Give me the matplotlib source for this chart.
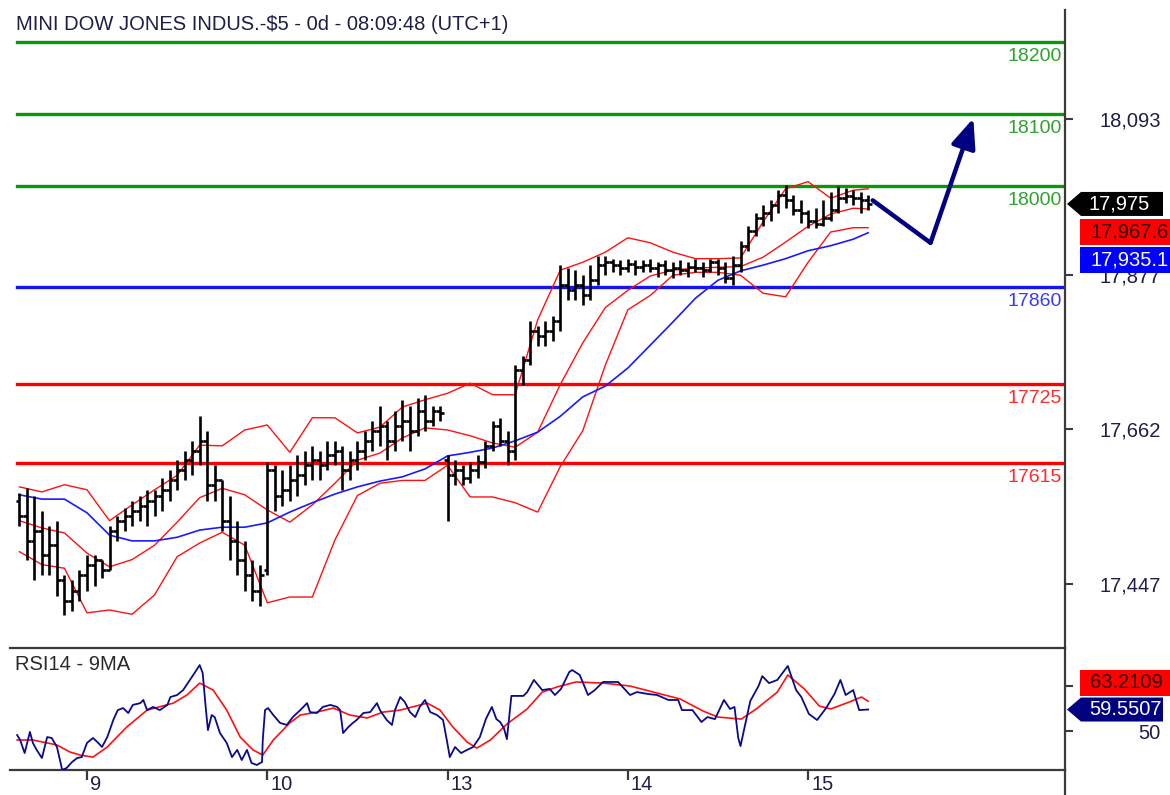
import matplotlib
matplotlib.use('Agg')
import matplotlib.pyplot as plt
import matplotlib.transforms as mtransforms
from matplotlib.collections import LineCollection
from matplotlib.patches import Polygon, Rectangle

plt.rcParams['font.family'] = ['Liberation Sans', 'DejaVu Sans']

# ---------------- data ----------------
title = "MINI DOW JONES INDUS.-$5 - 0d - 08:09:48 (UTC+1)"
rsi_title = "RSI14 - 9MA"

bar_open = [17563, 17542, 17507, 17521, 17487, 17501, 17452, 17424, 17438, 17459,
            17473, 17480, 17466, 17521, 17535, 17542, 17549, 17556, 17563, 17570,
            17577, 17591, 17605, 17619, 17632, 17646, 17584, 17591, 17535, 17507,
            17480, 17459, 17438, 17466, 17605, 17570, 17577, 17591, 17598, 17612,
            17619, 17612, 17626, 17632, 17605, 17619, 17632, 17646, 17660, 17667,
            17646, 17667, 17674, 17660, 17688, 17674, 17688, 17619, 17598, 17605,
            17594, 17605, 17616, 17639, 17667, 17646, 17632, 17744, 17758, 17799,
            17792, 17799, 17813, 17862, 17855, 17862, 17848, 17869, 17890, 17894,
            17890, 17886, 17891, 17888, 17890, 17886, 17890, 17883, 17886, 17883,
            17888, 17886, 17883, 17894, 17886, 17872, 17890, 17917, 17938, 17955,
            17963, 17973, 17987, 17980, 17966, 17962, 17952, 17947, 17955, 17966,
            17983, 17986, 17983, 17980]
bar_high = [17573, 17580, 17570, 17549, 17528, 17535, 17459, 17452, 17466, 17487,
            17487, 17480, 17528, 17542, 17552, 17563, 17570, 17577, 17577, 17594,
            17605, 17619, 17632, 17646, 17681, 17660, 17612, 17591, 17570, 17535,
            17507, 17480, 17473, 17616, 17612, 17605, 17612, 17626, 17632, 17639,
            17632, 17646, 17646, 17639, 17632, 17646, 17660, 17674, 17695, 17674,
            17688, 17702, 17695, 17705, 17709, 17695, 17695, 17626, 17619, 17612,
            17616, 17626, 17646, 17674, 17677, 17660, 17751, 17764, 17813, 17806,
            17813, 17820, 17890, 17886, 17883, 17876, 17890, 17903, 17903, 17899,
            17897, 17899, 17897, 17897, 17899, 17894, 17897, 17894, 17897, 17894,
            17899, 17894, 17899, 17899, 17894, 17903, 17924, 17945, 17963, 17973,
            17980, 17994, 18001, 17987, 17980, 17966, 17969, 17980, 17991, 18000,
            17997, 17994, 17991, 17987]
bar_low = [17528, 17480, 17452, 17459, 17459, 17431, 17404, 17410, 17424, 17438,
           17445, 17455, 17466, 17507, 17521, 17528, 17535, 17528, 17542, 17549,
           17563, 17577, 17591, 17598, 17612, 17563, 17563, 17521, 17480, 17459,
           17438, 17424, 17417, 17459, 17549, 17556, 17563, 17570, 17584, 17591,
           17591, 17605, 17612, 17577, 17591, 17605, 17619, 17632, 17639, 17619,
           17632, 17646, 17632, 17653, 17660, 17667, 17674, 17535, 17584, 17584,
           17588, 17594, 17608, 17632, 17639, 17612, 17619, 17723, 17751, 17778,
           17778, 17785, 17799, 17841, 17841, 17834, 17841, 17862, 17876, 17880,
           17876, 17880, 17877, 17880, 17880, 17874, 17876, 17872, 17876, 17874,
           17880, 17874, 17880, 17876, 17865, 17862, 17880, 17910, 17931, 17945,
           17952, 17963, 17969, 17959, 17949, 17941, 17941, 17945, 17952, 17963,
           17977, 17973, 17963, 17966]
bar_close = [17542, 17507, 17521, 17487, 17501, 17452, 17424, 17438, 17459, 17473,
             17480, 17466, 17521, 17535, 17542, 17549, 17556, 17563, 17570, 17577,
             17591, 17605, 17619, 17632, 17646, 17584, 17591, 17535, 17507, 17480,
             17459, 17438, 17459, 17605, 17570, 17577, 17591, 17598, 17612, 17619,
             17612, 17626, 17632, 17605, 17619, 17632, 17646, 17660, 17667, 17646,
             17667, 17674, 17660, 17688, 17674, 17688, 17685, 17598, 17605, 17594,
             17605, 17616, 17639, 17667, 17646, 17632, 17744, 17758, 17799, 17792,
             17799, 17813, 17862, 17855, 17862, 17848, 17869, 17890, 17894, 17890,
             17886, 17891, 17888, 17890, 17886, 17890, 17883, 17886, 17883, 17888,
             17886, 17883, 17894, 17886, 17872, 17890, 17917, 17938, 17955, 17963,
             17973, 17987, 17980, 17966, 17962, 17952, 17947, 17955, 17966, 17983,
             17986, 17983, 17980, 17975]

day_ticks = [9, 33, 57, 81, 105]
day_labels = ['9', '10', '13', '14', '15']

band_idx = [0, 3, 6, 9, 12, 15, 18, 21, 24, 27, 30, 33, 36, 39, 42, 45, 48, 51, 54,
            57, 60, 63, 66, 69, 72, 75, 78, 81, 84, 87, 90, 93, 96, 99, 102, 105,
            108, 111, 113]
bb_upper = [17582, 17575, 17585, 17578, 17535, 17557, 17578, 17598, 17640, 17639,
            17661, 17668, 17630, 17678, 17678, 17657, 17665, 17693, 17703, 17712,
            17726, 17710, 17710, 17814, 17883, 17894, 17908, 17928, 17921, 17908,
            17899, 17899, 17900, 17950, 17996, 18006, 17983, 17994, 17996]
bb_mid = [17535, 17525, 17518, 17490, 17471, 17481, 17501, 17533, 17567, 17580,
          17571, 17550, 17533, 17557, 17587, 17619, 17629, 17650, 17664, 17661,
          17653, 17643, 17637, 17658, 17724, 17782, 17831, 17855, 17875, 17883,
          17886, 17887, 17888, 17901, 17922, 17944, 17961, 17969, 17968]
bb_lower = [17492, 17474, 17469, 17407, 17411, 17405, 17432, 17485, 17504, 17519,
            17501, 17421, 17429, 17429, 17508, 17570, 17587, 17591, 17591, 17612,
            17568, 17568, 17560, 17547, 17610, 17660, 17751, 17828, 17848, 17876,
            17880, 17880, 17876, 17851, 17846, 17894, 17936, 17942, 17942]
ma_blue = [17571, 17565, 17565, 17546, 17515, 17507, 17507, 17512, 17522, 17526,
           17526, 17532, 17547, 17560, 17572, 17582, 17590, 17596, 17607, 17625,
           17630, 17636, 17646, 17658, 17680, 17707, 17722, 17747, 17779, 17811,
           17844, 17869, 17882, 17890, 17899, 17910, 17917, 17926, 17935]

levels = [18200, 18100, 18000, 17860, 17725, 17615]
level_colors = ['#079907', '#079907', '#079907', '#1414f0', '#ff0000', '#ff0000']
level_text_colors = ['#30a030', '#30a030', '#30a030', '#3838ff', '#ff2a2a', '#ff2a2a']

price_ticks = [17447, 17662, 17877, 18093]
price_tick_labels = ['17,447', '17,662', '17,877', '18,093']

arrow_x = [113.6, 121.3, 127.0]
arrow_y = [17980, 17921, 18094]

last_price_label = '17,975'
mid_label = '17,967.6'
ma_label = '17,935.1'

rsi_x = [-0.3, 0.1, 0.7, 1.4, 1.8, 2.3, 3.0, 3.7, 4.3, 5.0,
         5.7, 6.3, 7.0, 7.7, 8.3, 9.0, 9.8, 10.5, 11.0, 11.7,
         12.5, 13.1, 13.8, 14.5, 15.1, 16.1, 16.5, 17.0, 17.8, 18.7,
         19.7, 20.1, 21.0, 21.8, 22.7, 23.4, 24.0, 24.4, 24.8, 25.1,
         25.6, 26.0, 26.7, 27.6, 28.3, 29.0, 29.6, 30.3, 30.9, 31.6,
         32.3, 32.4, 32.7, 33.1, 33.8, 34.7, 35.6, 36.4, 37.4, 38.3,
         38.7, 39.6, 40.4, 41.4, 42.3, 42.7, 43.1, 43.8, 44.4, 44.9,
         45.8, 46.7, 47.6, 48.0, 48.9, 49.6, 50.0, 50.7, 51.3, 52.0,
         52.7, 53.3, 54.0, 54.7, 55.6, 56.4, 56.9, 57.3, 58.0, 58.8,
         59.6, 60.4, 61.3, 62.1, 62.9, 63.5, 64.0, 64.5, 64.9, 65.5,
         67.1, 67.6, 68.5, 69.6, 70.6, 71.3, 72.1, 73.2, 73.6, 74.6,
         75.7, 76.6, 77.7, 78.6, 79.7, 81.3, 82.2, 83.8, 84.9, 86.4,
         87.7, 88.2, 89.6, 90.8, 91.6, 92.6, 93.8, 94.6, 95.2, 95.7,
         96.0, 96.7, 97.3, 98.4, 98.9, 99.8, 100.9, 102.3, 103.4, 104.1,
         105.1, 106.2, 107.4, 108.5, 109.3, 110.0, 111.0, 111.8, 113.0]
rsi_val = [48.2, 46.0, 40.2, 49.6, 44.7, 41.6, 38.0, 47.3, 46.9, 42.9,
           32.7, 33.6, 36.2, 38.0, 38.4, 44.7, 46.9, 44.7, 42.9, 47.3,
           54.9, 59.3, 60.2, 58.0, 61.6, 62.4, 63.8, 59.3, 60.7, 59.3,
           61.6, 65.1, 66.0, 68.2, 72.7, 76.2, 79.3, 75.8, 60.7, 50.4,
           57.1, 56.2, 49.1, 44.7, 38.4, 41.6, 37.1, 41.6, 35.8, 34.9,
           36.2, 46.0, 59.3, 60.2, 57.1, 53.6, 52.7, 56.2, 59.3, 62.4,
           58.4, 58.0, 60.7, 61.6, 60.7, 59.3, 49.1, 51.8, 53.6, 54.9,
           58.0, 58.4, 62.4, 59.3, 54.9, 52.7, 59.3, 65.1, 62.9, 58.4,
           56.2, 60.7, 63.8, 58.4, 57.1, 54.9, 46.0, 38.4, 42.9, 40.2,
           41.6, 42.9, 47.3, 55.3, 60.7, 55.3, 54.0, 51.3, 46.4, 65.6,
           65.6, 67.3, 72.7, 68.2, 68.7, 66.0, 68.7, 76.2, 77.1, 74.9,
           66.0, 68.2, 71.8, 71.8, 71.8, 66.0, 67.3, 66.4, 66.0, 63.8,
           63.8, 59.3, 59.3, 54.0, 56.2, 55.3, 63.8, 59.8, 60.7, 46.9,
           43.3, 54.0, 63.3, 70.0, 74.4, 71.3, 72.7, 78.9, 68.2, 65.1,
           57.6, 54.9, 60.2, 66.4, 72.7, 66.0, 68.2, 59.3, 59.55]
rsi_ma_x = [-0.3, 1.8, 5.0, 6.7, 8.1, 9.8, 11.7, 14.3, 17.0, 20.5,
            22.3, 24.0, 25.8, 27.6, 29.4, 31.1, 32.4, 33.8, 36.0, 37.4,
            39.6, 41.8, 44.0, 46.3, 48.4, 50.7, 54.3, 56.0, 57.7, 59.6,
            60.9, 62.7, 64.9, 67.6, 69.6, 71.6, 74.1, 77.7, 81.3, 84.4,
            88.0, 91.0, 93.0, 96.1, 98.1, 100.9, 102.3, 104.5, 106.5, 108.0,
            110.5, 112.1, 113.0]
rsi_ma_val = [46.0, 46.0, 43.8, 40.7, 39.3, 38.4, 42.9, 51.8, 59.3, 62.4,
              66.0, 71.3, 68.2, 59.3, 47.3, 41.6, 39.3, 46.0, 53.6, 57.1,
              58.4, 60.2, 57.1, 55.8, 58.4, 59.3, 62.4, 59.3, 51.8, 45.1,
              42.4, 46.0, 53.1, 59.8, 67.3, 69.6, 71.8, 71.3, 70.0, 67.3,
              64.2, 58.9, 56.2, 55.3, 59.8, 67.3, 74.9, 68.7, 61.1, 59.8,
              62.9, 65.1, 63.21]
rsi_ticks = [50, 70]
rsi_tick_labels = ['50', '']
rsi_label = '59.5507'
rsi_ma_label = '63.2109'

# ---------------- figure ----------------
W, H = 1170, 795
fig = plt.figure(figsize=(W / 100, H / 100), dpi=100)
fig.patch.set_facecolor('white')


def fa(x0, y0, x1, y1):
    return [x0 / W, 1 - y1 / H, (x1 - x0) / W, (y1 - y0) / H]


ax = fig.add_axes(fa(10, 10, 1065, 648))
ax2 = fig.add_axes(fa(10, 648, 1065, 770))
XLIM = (-1.25, 139.2)
spine_col = '#3a3a3a'
txt_col = '#1e1e46'

for a in (ax, ax2):
    a.set_xlim(*XLIM)
    a.set_facecolor('white')
    a.spines['left'].set_visible(False)
    a.spines['top'].set_visible(False)
    a.spines['right'].set_color(spine_col)
    a.spines['right'].set_linewidth(1.6)
    a.spines['bottom'].set_color(spine_col)
    a.spines['bottom'].set_linewidth(1.6)
    a.yaxis.set_ticks_position('right')

ax.set_ylim(17358.2, 18244.4)
ax2.set_ylim(32.67, 86.9)

# level lines
for lvl, c, tc in zip(levels, level_colors, level_text_colors):
    ax.axhline(lvl, xmin=7 / 1055, xmax=1, color=c, lw=2.4, zorder=1)
    ax.annotate(str(lvl), xy=(1, lvl), xycoords=('axes fraction', 'data'),
                xytext=(-3, -6), textcoords='offset pixels', ha='right', va='top',
                fontsize=14, color=tc)

# bands
ax.plot(band_idx, bb_upper, color='#ff1010', lw=1.0, zorder=2)
ax.plot(band_idx, bb_mid, color='#ff1010', lw=1.0, zorder=2)
ax.plot(band_idx, bb_lower, color='#ff1010', lw=1.0, zorder=2)
ax.plot(band_idx, ma_blue, color='#1a1aff', lw=1.2, zorder=2)

# OHLC bars
segs = []
for i, (o, h, l, c) in enumerate(zip(bar_open, bar_high, bar_low, bar_close)):
    segs.append([(i, l), (i, h)])
    segs.append([(i - 0.5, o), (i, o)])
    segs.append([(i, c), (i + 0.5, c)])
ax.add_collection(LineCollection(segs, colors='black', linewidths=1.9, zorder=3))

# forecast arrow
ax.plot(arrow_x[:2], arrow_y[:2], color='#000080', lw=3.2, solid_capstyle='round', zorder=4)
ax.annotate('', xy=(arrow_x[2], arrow_y[2]), xytext=(arrow_x[1], arrow_y[1]),
            arrowprops=dict(arrowstyle='-|>,head_length=1.8,head_width=0.75',
                            color='#000080', lw=3.2, shrinkA=0, shrinkB=0),
            zorder=4)

# price axis ticks
ax.set_yticks(price_ticks)
ax.set_yticklabels(price_tick_labels)
ax.set_xticks([])
ax.tick_params(axis='y', direction='out', length=6, width=1.5, color=spine_col,
               pad=63, labelsize=14.5, labelcolor=txt_col)
for t in ax.get_yticklabels():
    t.set_horizontalalignment('right')

# RSI panel
ax2.plot(rsi_ma_x, rsi_ma_val, color='#ff1010', lw=1.2, zorder=2)
ax2.plot(rsi_x, rsi_val, color='#0a0a8a', lw=1.3, zorder=3)
ax2.set_yticks(rsi_ticks)
ax2.set_yticklabels(rsi_tick_labels)
ax2.tick_params(axis='y', direction='out', length=6, width=1.5, color=spine_col,
                pad=63, labelsize=14.5, labelcolor=txt_col)
for t in ax2.get_yticklabels():
    t.set_horizontalalignment('right')
ax2.spines['top'].set_visible(True)
ax2.spines['top'].set_color(spine_col)
ax2.spines['top'].set_linewidth(1.6)
ax.spines['bottom'].set_visible(False)
ax2.set_xticks(day_ticks)
ax2.set_xticklabels([''] * len(day_ticks))
ax2.tick_params(axis='x', direction='out', length=7, width=1.6, color=spine_col)
for t, lbl in zip(day_ticks, day_labels):
    ax2.annotate(lbl, xy=(t, 0), xycoords=('data', 'axes fraction'), xytext=(3, -5),
                 textcoords='offset pixels', ha='left', va='top', fontsize=14.5,
                 color=txt_col)

# ---------------- overlays in pixel space ----------------
ident = mtransforms.IdentityTransform()


def up(y):
    return H - y


def ypix(axis, val):
    return H - axis.transData.transform((0, val))[1]


# extend right spine below the RSI panel
fig.add_artist(plt.Line2D([1065, 1065], [up(770), up(795)], transform=ident,
                          color=spine_col, lw=1.6))

fig.text(16, up(25), title, transform=ident, ha='left', va='center',
         fontsize=14.5, color=txt_col)
fig.text(15, up(664), rsi_title, transform=ident, ha='left', va='center',
         fontsize=14.5, color='#2a2a2a')


def pointer_box(yc, face, text, tcolor, h=24):
    pts = [(1067, up(yc)), (1081, up(yc - h / 2)), (1163, up(yc - h / 2)),
           (1163, up(yc + h / 2)), (1081, up(yc + h / 2))]
    fig.add_artist(Polygon(pts, closed=True, transform=ident, facecolor=face,
                           edgecolor='none', zorder=5))
    fig.text(1089, up(yc), text, transform=ident, ha='left', va='center',
             fontsize=14.5, color=tcolor, zorder=6)


def plain_box(yc, face, text, tcolor, h=26):
    fig.add_artist(Rectangle((1080, up(yc + h / 2)), 100, h, transform=ident,
                             facecolor=face, edgecolor='none', zorder=5))
    fig.text(1090, up(yc), text, transform=ident, ha='left', va='center',
             fontsize=14.5, color=tcolor, zorder=6)


yc_last = ypix(ax, bar_close[-1])
pointer_box(yc_last, 'black', last_price_label, 'white')
plain_box(yc_last + 28, '#ff0000', mid_label, '#3a0000')
plain_box(yc_last + 56, '#0000ff', ma_label, 'white')

yc_rsi = ypix(ax2, rsi_val[-1])
plain_box(yc_rsi - 27, '#ff0000', rsi_ma_label, '#3a0000')
pointer_box(yc_rsi, '#000080', rsi_label, 'white')

fig.savefig('out.png', dpi=100)
